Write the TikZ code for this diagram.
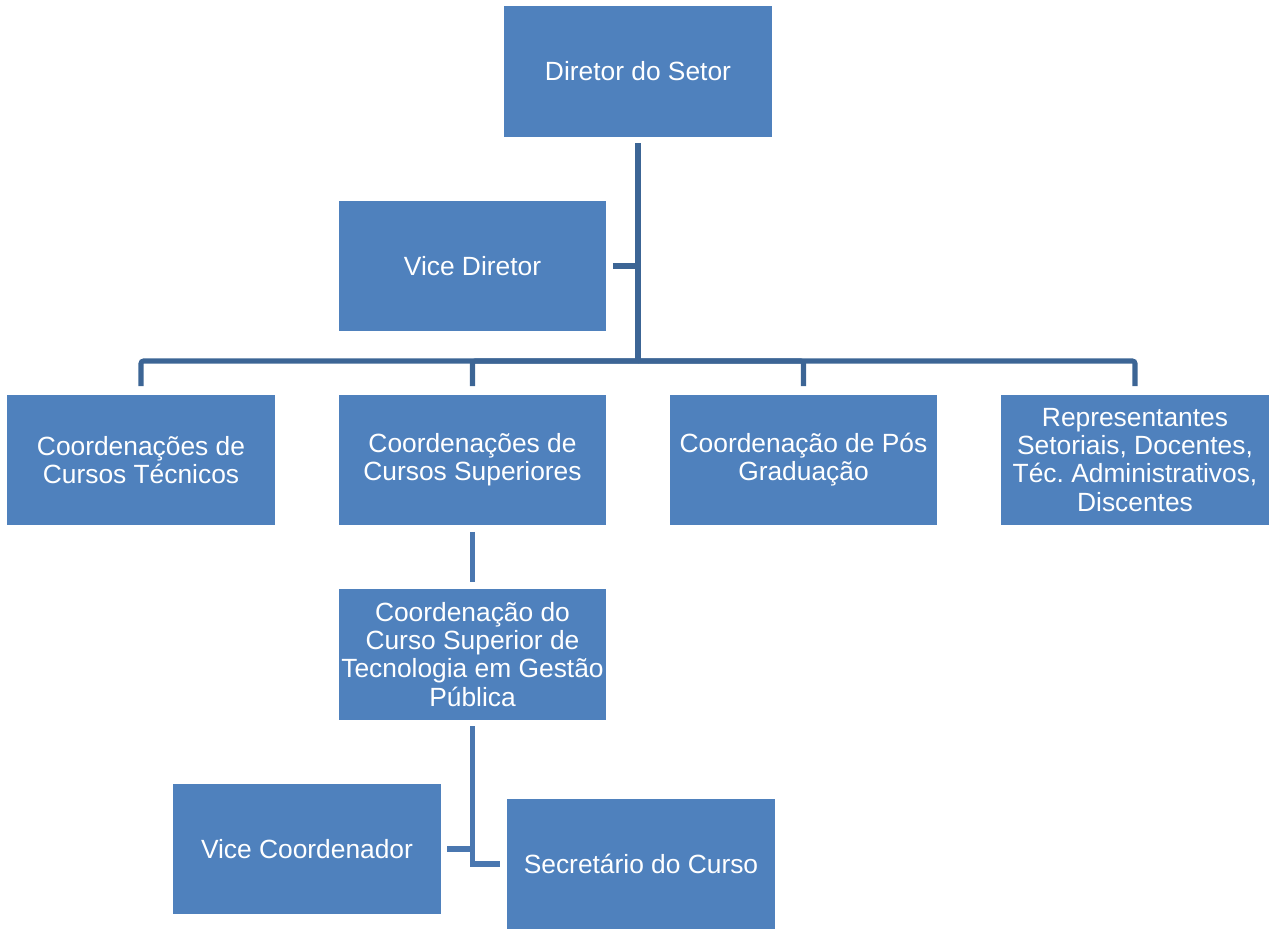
\documentclass[tikz,border=0pt]{standalone}
\usepackage{fontspec}
\setmainfont{Liberation Sans}
\usetikzlibrary{positioning}
\definecolor{boxblue}{HTML}{4F81BD}
\definecolor{linkdark}{HTML}{3C6595}
\definecolor{linklight}{HTML}{4A77B0}
\frenchspacing

\begin{document}
\begin{tikzpicture}[
    x=0.02cm, y=-0.02cm,
    font=\fontsize{15}{16}\selectfont,
    unit/.style={rectangle, fill=boxblue, text=white, minimum width=5.36cm, minimum height=2.62cm, align=center, inner sep=1pt},
    link/.style={draw=linkdark, line width=2.9pt, rounded corners=1.5pt},
    sublink/.style={draw=linklight, line width=2.9pt}
]
\useasboundingbox (0,0) rectangle (1278,929);

% 1. Top level
\node[unit] (diretor) at (638,71.5) {Diretor do Setor};
\node[unit] (vice) at (472.5,266) {Vice Diretor};

% 2. Coordination row
\node[unit] (tecnicos) at (141,460) {Coordenações de\\Cursos Técnicos};
\node[unit] (superiores) at (472.5,460) {Coordenações de\\Cursos Superiores};
\node[unit] (pos) at (803.5,460) {Coordenação de Pós\\Graduação};
\node[unit] (repr) at (1135,460) {Representantes\\Setoriais, Docentes,\\Téc. Administrativos,\\Discentes};

% -- Course level --
\node[unit] (gestao) at (472.5,654.5) {Coordenação do\\Curso Superior de\\Tecnologia em Gestão\\Pública};
\node[unit] (vicecoord) at (307,849) {Vice Coordenador};
\node[unit] (secretario) at (641,864) {Secretário do Curso};

% -- Connectors --
\coordinate (bus) at (638,361);
\draw[link] ([yshift=-0.12cm]diretor.south) -- (bus);
\draw[link] ([xshift=0.12cm]vice.east) -- (vice.east -| bus);
\foreach \n in {tecnicos,superiores,pos,repr}
  \draw[link] ([yshift=0.16cm]\n.north) |- (bus);
\draw[sublink] ([yshift=-0.12cm]superiores.south) -- ([yshift=0.14cm]gestao.north);
\draw[sublink] ([yshift=-0.12cm]gestao.south) |- ([xshift=-0.14cm]secretario.west);
\draw[sublink] ([xshift=0.12cm]vicecoord.east) -- (vicecoord.east -| gestao.south);

\end{tikzpicture}
\end{document}
